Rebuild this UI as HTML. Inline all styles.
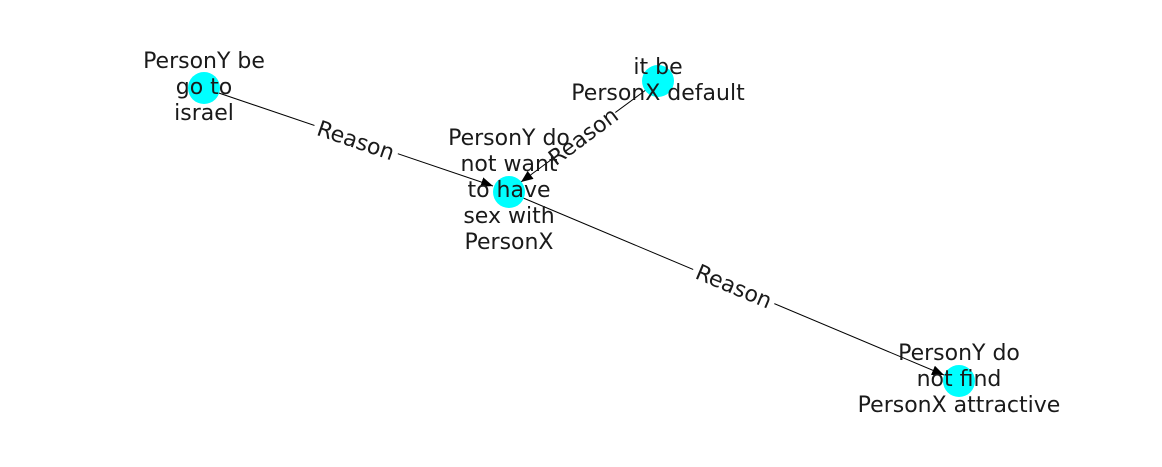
<!DOCTYPE html>
<html><head><meta charset="utf-8"><style>html,body{margin:0;padding:0;background:#fff}</style></head>
<body>
<svg width="1162" height="462" viewBox="0 0 1162 462" xmlns="http://www.w3.org/2000/svg" font-family="DejaVu Sans, sans-serif" font-size="22" fill="#1a1a1a">
<defs><marker id="ah" markerWidth="12" markerHeight="10" refX="12" refY="5" orient="auto" markerUnits="userSpaceOnUse"><path d="M0,0 L12,5 L0,10 z" fill="#000"/></marker></defs>
<g stroke="#000" stroke-width="1" fill="none">
<line x1="204" y1="88" x2="493" y2="186" marker-end="url(#ah)"/>
<line x1="658" y1="81" x2="521" y2="182" marker-end="url(#ah)"/>
<line x1="509" y1="192" x2="944" y2="375" marker-end="url(#ah)"/>
</g>
<g fill="#00ffff">
<circle cx="204" cy="88" r="16"/><circle cx="509" cy="192" r="16"/><circle cx="658" cy="81" r="16"/><circle cx="959" cy="381" r="16"/>
</g>
<g text-anchor="middle">
<g transform="translate(356,140) rotate(18.8)"><rect x="-44" y="-11" width="88" height="22" fill="#fff"/><text y="8">Reason</text></g>
<g transform="translate(583,136) rotate(-36.7)"><rect x="-40" y="-10" width="80" height="20" fill="#fff"/><text y="8">Reason</text></g>
<g transform="translate(734,286) rotate(22.8)"><rect x="-44" y="-11" width="88" height="22" fill="#fff"/><text y="8">Reason</text></g>
</g>
<g text-anchor="middle">
<text x="204" y="68">PersonY be</text><text x="204" y="94">go to</text><text x="204" y="120">israel</text>
<text x="658" y="74">it be</text><text x="658" y="100">PersonX default</text>
<text x="509" y="145">PersonY do</text><text x="509" y="171">not want</text><text x="509" y="197">to have</text><text x="509" y="223">sex with</text><text x="509" y="249">PersonX</text>
<text x="959" y="360">PersonY do</text><text x="959" y="386">not find</text><text x="959" y="412">PersonX attractive</text>
</g>
</svg>
</body></html>
